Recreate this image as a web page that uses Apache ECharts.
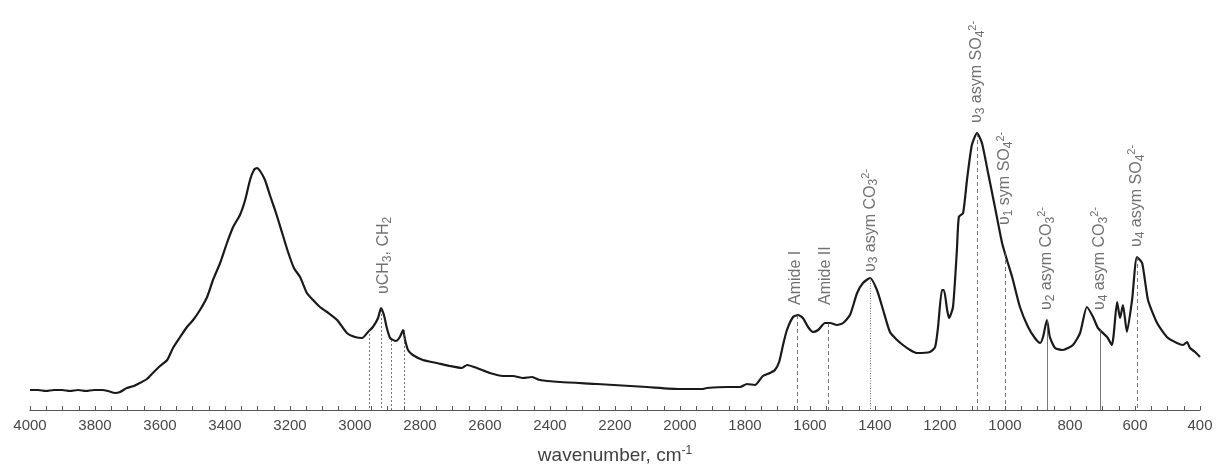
<!DOCTYPE html>
<html>
<head>
<meta charset="utf-8">
<script src="https://cdn.jsdelivr.net/npm/echarts@6/dist/echarts.min.js"></script>
<style>
  html, body { margin: 0; padding: 0; background: #fff; }
  #chart { width: 1216px; height: 469px; }
</style>
</head>
<body>
<div id="chart"></div>
<script>
// FTIR spectrum, wavenumber (cm-1) and absorbance (a.u.)
const wavenumbers = [
  4000, 3975, 3951, 3926, 3902, 3877, 3852, 3828, 3803, 3778, 3760, 3738, 3723,
  3702, 3680, 3662, 3640, 3622, 3600, 3578, 3560, 3538, 3517, 3498, 3477, 3455,
  3437, 3415, 3394, 3375, 3354, 3338, 3323, 3311, 3302, 3292, 3277, 3262, 3243,
  3225, 3206, 3188, 3169, 3148, 3129, 3108, 3086, 3055, 3025, 3000, 2978, 2960,
  2945, 2929, 2920, 2911, 2902, 2892, 2874, 2862, 2852, 2846, 2837, 2822, 2791,
  2748, 2708, 2671, 2655, 2625, 2585, 2545, 2514, 2483, 2455, 2431, 2369, 2255,
  2102, 2000, 1932, 1917, 1855, 1815, 1794, 1769, 1745, 1723, 1708, 1695, 1683,
  1671, 1652, 1637, 1622, 1606, 1591, 1575, 1554, 1538, 1517, 1498, 1477, 1455,
  1437, 1415, 1394, 1375, 1354, 1332, 1314, 1292, 1271, 1231, 1215, 1206, 1194,
  1188, 1178, 1172, 1160, 1148, 1142, 1129, 1117, 1102, 1086, 1071, 1052, 1031,
  1009, 994, 978, 954, 929, 908, 892, 883, 871, 862, 846, 822, 791, 769, 748,
  729, 714, 686, 671, 655, 646, 637, 625, 609, 594, 578, 560, 532, 502, 471,
  452, 440, 431, 415, 400
];
const absorbance = [
  0.20, 0.20, 0.19, 0.20, 0.20, 0.19, 0.20, 0.19, 0.20, 0.20, 0.19, 0.17, 0.18,
  0.22, 0.24, 0.27, 0.31, 0.37, 0.44, 0.50, 0.62, 0.73, 0.83, 0.90, 1.00, 1.13,
  1.30, 1.47, 1.67, 1.83, 1.95, 2.10, 2.30, 2.40, 2.42, 2.39, 2.30, 2.15, 1.97,
  1.78, 1.58, 1.42, 1.33, 1.17, 1.10, 1.03, 0.98, 0.90, 0.77, 0.73, 0.72, 0.78,
  0.83, 0.92, 1.02, 0.95, 0.82, 0.72, 0.69, 0.73, 0.80, 0.70, 0.60, 0.55, 0.50,
  0.47, 0.44, 0.42, 0.45, 0.42, 0.37, 0.34, 0.34, 0.32, 0.33, 0.30, 0.28, 0.26,
  0.23, 0.21, 0.21, 0.22, 0.23, 0.23, 0.26, 0.25, 0.34, 0.37, 0.40, 0.48, 0.65,
  0.80, 0.93, 0.95, 0.92, 0.83, 0.78, 0.80, 0.87, 0.87, 0.85, 0.87, 0.95, 1.17,
  1.27, 1.32, 1.20, 1.00, 0.78, 0.70, 0.65, 0.60, 0.57, 0.58, 0.63, 0.83, 1.20,
  1.20, 1.00, 0.92, 1.03, 1.60, 1.93, 1.97, 2.30, 2.65, 2.77, 2.67, 2.37, 2.03,
  1.67, 1.50, 1.33, 1.03, 0.83, 0.72, 0.67, 0.73, 0.90, 0.73, 0.62, 0.60, 0.65,
  0.77, 1.03, 0.93, 0.82, 0.73, 0.65, 1.08, 0.92, 1.05, 0.78, 1.10, 1.53, 1.47,
  1.10, 0.87, 0.73, 0.67, 0.65, 0.68, 0.62, 0.58, 0.53
];

// band assignments: position of the drop line, its top, line style
const bandPos = [2955, 2920, 2890, 2850, 1640, 1545, 1415, 1086, 1000, 871, 708, 594];
const bandTop = [0.80, 1.00, 0.70, 0.80, 0.95, 0.87, 1.32, 2.77, 1.57, 0.90, 0.80, 1.53];
const bandDash = ['ch', 'ch', 'ch', 'ch', 'dash', 'dash', 'dot', 'dash', 'dash', 'solid', 'solid', 'dash'];

// labels: text ({s|} = subscript, {p|} = superscript), position, where the text starts
const labelText = [
  'υCH{s|3}, CH{s|2}', 'Amide I', 'Amide II', 'υ{s|3} asym CO{s|3}{p|2-}', 'υ{s|3} asym SO{s|4}{p|2-}',
  'υ{s|1} sym SO{s|4}{p|2-}', 'υ{s|2} asym CO{s|3}{p|2-}', 'υ{s|4} asym CO{s|3}{p|2-}', 'υ{s|4} asym SO{s|4}{p|2-}'
];
const labelPos = [2911, 1643, 1551, 1415, 1086, 1000, 871, 708, 594];
const labelBase = [1.16, 1.05, 1.05, 1.38, 2.87, 1.85, 1.00, 1.00, 1.63];

const chart = echarts.init(document.getElementById('chart'))

const font = 'Liberation Sans'
const dashTypes = {
  ch: [2, 2],
  dash: [4, 3],
  dot: [1, 1.5],
  solid: 'solid'
}
const lineData = bandPos.map((w, i) => [
  { coord: [w, bandTop[i]], lineStyle: { type: dashTypes[bandDash[i]] } },
  { coord: [w, 0] }
])

const option = {
  animation: false,
  grid: {
    left: 30,
    right: 16,
    top: 0,
    bottom: 59,
    outerBoundsMode: 'none'
  },
  xAxis: {
    type: 'value',
    min: 400,
    max: 4000,
    interval: 50,
    inverse: true,
    name: 'wavenumber, cm{p|-1}',
    nameLocation: 'middle',
    nameGap: 35,
    nameTextStyle: {
      color: '#404040',
      fontSize: 19,
      fontFamily: font,
      lineHeight: 22,
      rich: {
        p: { fontSize: 12, fontFamily: font, color: '#404040', verticalAlign: 'top', lineHeight: 22 }
      }
    },
    axisLine: {
      lineStyle: { color: '#555', width: 1.2 }
    },
    axisTick: {
      inside: true,
      length: 4,
      lineStyle: { color: '#555' }
    },
    axisLabel: {
      margin: 8,
      color: '#484848',
      fontSize: 15,
      fontFamily: font,
      formatter: (v) => (v % 200 === 0 ? String(v) : '')
    },
    splitLine: { show: false }
  },
  yAxis: {
    type: 'value',
    min: 0,
    max: 4.1,
    show: false
  },
  series: [
    {
      type: 'line',
      data: wavenumbers.map((w, i) => [w, absorbance[i]]),
      showSymbol: false,
      smooth: 0.2,
      lineStyle: { color: '#1a1a1a', width: 2.2 },
      markLine: {
        silent: true,
        symbol: 'none',
        label: { show: false },
        lineStyle: { color: '#555', width: 0.8 },
        data: lineData
      }
    },
    {
      type: 'scatter',
      symbolSize: 0,
      silent: true,
      data: labelPos.map((w, i) => ({ value: [w, labelBase[i]], name: labelText[i] })),
      label: {
        show: true,
        position: 'inside',
        rotate: 90,
        align: 'left',
        verticalAlign: 'middle',
        formatter: '{b}',
        color: '#4d4d4d',
        fontSize: 16,
        fontFamily: font,
        lineHeight: 20,
        rich: {
          s: { fontSize: 12, fontFamily: font, color: '#4d4d4d', verticalAlign: 'bottom', lineHeight: 20 },
          p: { fontSize: 11, fontFamily: font, color: '#4d4d4d', verticalAlign: 'top', lineHeight: 20 }
        }
      }
    }
  ]
}
chart.setOption(option)
</script>
</body>
</html>
